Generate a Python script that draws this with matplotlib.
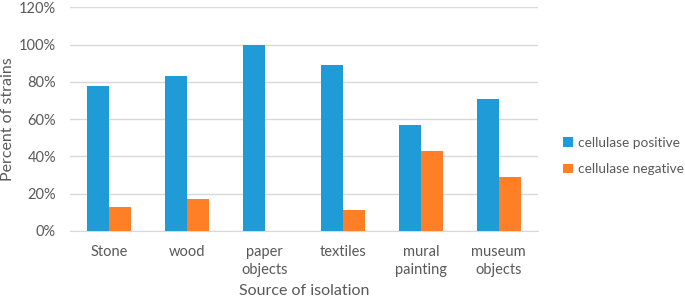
import numpy as np
import matplotlib
matplotlib.use("Agg")
import matplotlib.pyplot as plt
from matplotlib.ticker import PercentFormatter

categories = ["Stone", "wood", "paper\nobjects", "textiles", "mural\npainting", "museum\nobjects"]
positive = [78, 83, 100, 89, 57, 71]
negative = [13, 17, 0, 11, 43, 29]
series_names = ["cellulase positive", "cellulase negative"]

plt.rcParams['font.family'] = ['Lato', 'DejaVu Sans']
grey = '#595959'

fig = plt.figure(figsize=(6.85, 3.01), dpi=100)
ax = fig.add_axes([0.102, 0.2326, 0.683, 0.7431])

x = np.arange(len(categories))
w = 0.28
ax.bar(x - w / 2, positive, w, color='#1F9BD7', label=series_names[0], zorder=3)
ax.bar(x + w / 2, negative, w, color='#FF7F27', label=series_names[1], zorder=3)

ax.set_xlim(-0.5, len(categories) - 0.5)
ax.set_ylim(0, 120)
ax.set_yticks(range(0, 121, 20))
ax.yaxis.set_major_formatter(PercentFormatter(decimals=0))
ax.set_xticks(x)
ax.set_xticklabels(categories, linespacing=1.4)
ax.grid(axis='y', color='#D9D9D9', linewidth=1, zorder=0)
for s in ['top', 'right', 'left']:
    ax.spines[s].set_visible(False)
ax.spines['bottom'].set_color('#D9D9D9')
ax.tick_params(length=0, labelsize=10.5, colors=grey)
ax.tick_params(axis='x', pad=10)
ax.tick_params(axis='y', pad=10)

ax.set_ylabel("Percent of strains", fontsize=11.5, color=grey, labelpad=3)
ax.set_xlabel("Source of isolation", fontsize=11.5, color=grey, labelpad=5)

leg = ax.legend(loc='center left', bbox_to_anchor=(1.028, 0.335), frameon=False,
                fontsize=9.8, handlelength=0.7, handleheight=0.7,
                handletextpad=0.4, labelspacing=1.05)
for t in leg.get_texts():
    t.set_color(grey)

fig.savefig("out.png", dpi=100)
